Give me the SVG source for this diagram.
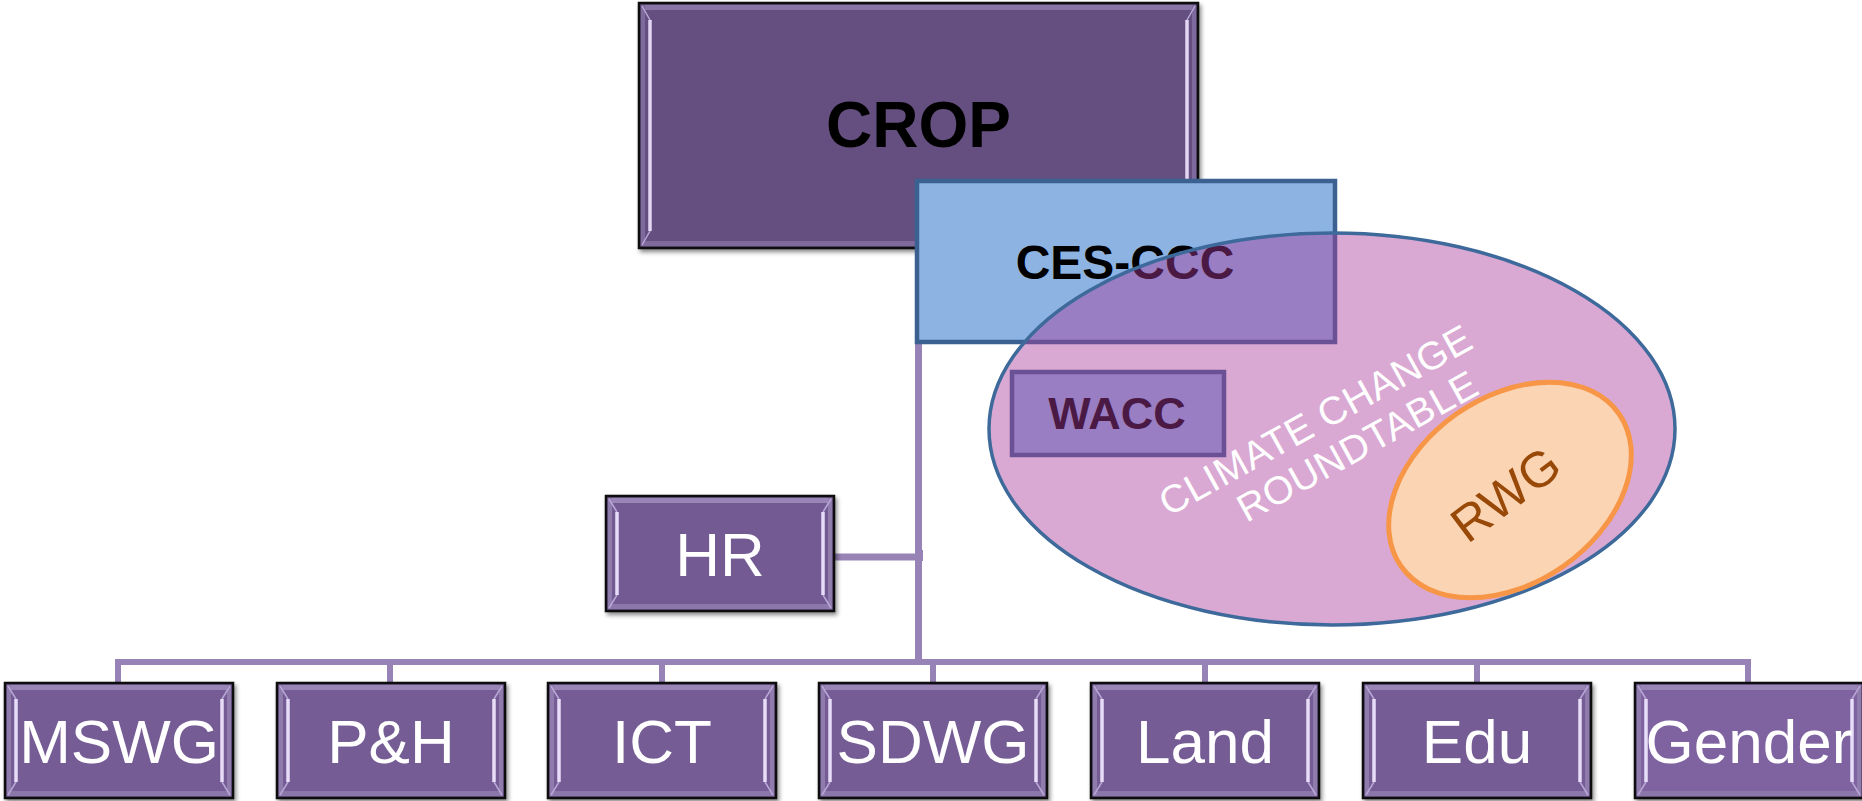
<svg xmlns="http://www.w3.org/2000/svg" xmlns:xlink="http://www.w3.org/1999/xlink" width="1862" height="801" viewBox="0 0 1862 801">
<style>
.lbl{font-family:"Liberation Sans",Arial,sans-serif;fill:#fff;font-size:62px;text-anchor:middle}
.bold{font-family:"Liberation Sans",Arial,sans-serif;font-weight:bold;text-anchor:middle;fill:#000}
.conn{stroke:#9883b6;stroke-width:6;fill:none}
.ccr{font-family:"Liberation Sans",Arial,sans-serif;fill:#fff;font-size:39px;text-anchor:middle;letter-spacing:0.5px}
</style>
<defs>
<filter id="sh" x="-10%" y="-10%" width="130%" height="130%">
<feDropShadow dx="2" dy="3" stdDeviation="2" flood-color="#000" flood-opacity="0.45"/>
</filter>
<g id="bev">
<rect x="0" y="0" width="228" height="115" stroke="#111" stroke-width="2.5"/>
<rect x="2" y="2" width="224" height="5" fill="#9a86b6"/>
<rect x="2" y="108" width="224" height="5" fill="#8b77a9"/>
<rect x="2" y="2" width="4" height="111" fill="#8f7bad"/>
<rect x="222" y="2" width="4" height="111" fill="#8f7bad"/>
<path d="M3,3 L11,16 M3,112 L11,99 M225,3 L217,16 M225,112 L217,99" stroke="#b9a7d6" stroke-width="1.5" fill="none"/>
<path d="M11,16 L11,99 M217,16 L217,99" stroke="#e8ddf8" stroke-width="3.5" fill="none"/>
</g>
</defs>
<rect width="1862" height="801" fill="#fff"/>

<g id="connectors">
<line class="conn" x1="918.5" y1="248" x2="918.5" y2="665" style="stroke-width:7"/>
<line class="conn" x1="835" y1="557" x2="921" y2="557" style="stroke-width:7"/>
<rect x="916" y="550" width="7" height="11" fill="#9883b6"/>
<line class="conn" x1="115" y1="662" x2="1751" y2="662"/>
<line class="conn" x1="118" y1="659" x2="118" y2="684"/>
<line class="conn" x1="390" y1="659" x2="390" y2="684"/>
<line class="conn" x1="662" y1="659" x2="662" y2="684"/>
<line class="conn" x1="933" y1="659" x2="933" y2="684"/>
<line class="conn" x1="1205" y1="659" x2="1205" y2="684"/>
<line class="conn" x1="1477" y1="659" x2="1477" y2="684"/>
<line class="conn" x1="1748" y1="659" x2="1748" y2="684"/>
</g>

<g id="crop" filter="url(#sh)">
<rect x="639" y="3" width="559" height="245" fill="#654f80" stroke="#111" stroke-width="2.5"/>
<rect x="641" y="5" width="555" height="5" fill="#8a76a6"/>
<rect x="641" y="241" width="555" height="5" fill="#7f6b9c"/>
<rect x="641" y="5" width="4" height="241" fill="#7e6a9c"/>
<rect x="1192" y="5" width="4" height="241" fill="#7e6a9c"/>
<path d="M642,6 L650,20 M642,245 L650,231 M1195,6 L1187,20 M1195,245 L1187,231" stroke="#b9a7d6" stroke-width="1.5" fill="none"/>
<path d="M650,20 L650,231 M1187,20 L1187,231" stroke="#e2d6f4" stroke-width="3.5" fill="none"/>
<text class="bold" x="918.5" y="147" font-size="64">CROP</text>
</g>

<g id="hr">
<use xlink:href="#bev" href="#bev" x="606" y="496" fill="#735a93" filter="url(#sh)"/>
<text class="lbl" x="720" y="576">HR</text>
</g>

<g id="mswg">
<use xlink:href="#bev" href="#bev" x="5" y="683" fill="#745b95" filter="url(#sh)"/>
<text class="lbl" x="119" y="763">MSWG</text>
</g>
<g id="ph">
<use xlink:href="#bev" href="#bev" x="277" y="683" fill="#745b95" filter="url(#sh)"/>
<text class="lbl" x="391" y="763">P&amp;H</text>
</g>
<g id="ict">
<use xlink:href="#bev" href="#bev" x="548" y="683" fill="#745b95" filter="url(#sh)"/>
<text class="lbl" x="662" y="763">ICT</text>
</g>
<g id="sdwg">
<use xlink:href="#bev" href="#bev" x="819" y="683" fill="#745b95" filter="url(#sh)"/>
<text class="lbl" x="933" y="763">SDWG</text>
</g>
<g id="land">
<use xlink:href="#bev" href="#bev" x="1091" y="683" fill="#745b95" filter="url(#sh)"/>
<text class="lbl" x="1205" y="763">Land</text>
</g>
<g id="edu">
<use xlink:href="#bev" href="#bev" x="1363" y="683" fill="#745b95" filter="url(#sh)"/>
<text class="lbl" x="1477" y="763">Edu</text>
</g>
<g id="gender">
<use xlink:href="#bev" href="#bev" x="1635" y="683" fill="#7f64a0" filter="url(#sh)"/>
<text class="lbl" x="1749" y="763">Gender</text>
</g>

<g id="ces-ccc">
<rect x="917" y="181" width="418" height="161" fill="#8db3e2" stroke="#3a6190" stroke-width="4.5"/>
<text class="bold" x="1125" y="279" font-size="48">CES-CCC</text>
</g>

<g id="wacc">
<rect x="1012" y="372" width="212" height="83" fill="#8db3e2" stroke="#3a6190" stroke-width="4.5"/>
<text class="bold" x="1117" y="429" font-size="45">WACC</text>
</g>

<g id="roundtable">
<ellipse cx="1332" cy="429" rx="343" ry="196" fill="#a83b9b" fill-opacity="0.44" stroke="#3d6a9b" stroke-width="3.5"/>
<text class="ccr" transform="translate(1322,432) rotate(-29)">CLIMATE CHANGE</text>
<text class="ccr" transform="translate(1364,458) rotate(-29)">ROUNDTABLE</text>
</g>

<g id="rwg">
<ellipse cx="1510" cy="490" rx="133" ry="93" transform="rotate(-35 1510 490)" fill="#fbd4b4" stroke="#f79646" stroke-width="5"/>
<text transform="translate(1516,508) rotate(-37)" font-family="Liberation Sans, Arial, sans-serif" font-size="50" fill="#984807" text-anchor="middle">RWG</text>
</g>
</svg>
